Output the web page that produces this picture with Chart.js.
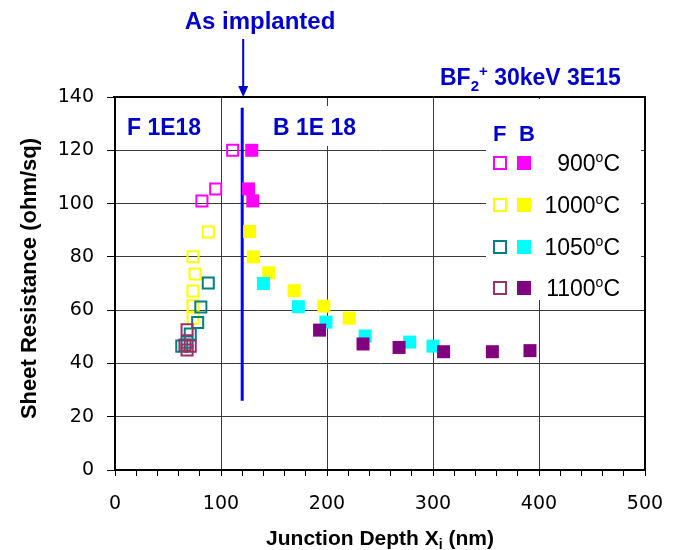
<!DOCTYPE html>
<html>
<head>
<meta charset="utf-8">
<script src="https://cdn.jsdelivr.net/npm/chart.js@4.4.1/dist/chart.umd.min.js"></script>
<style>
  html, body { margin: 0; background: #fff; }
  canvas { display: block; }
</style>
</head>
<body>
<canvas id="chart" width="681" height="550"></canvas>
<script>
// ---- data (x = junction depth nm, y = ohm/sq) ----
const f1100X = [68, 66, 68, 71];
const f1100Y = [52.6, 46.9, 45.0, 46.5];
const f1050X = [88, 81, 78, 71, 63, 68];
const f1050Y = [70.2, 61.2, 55.4, 51, 46.5, 48];
const f1000X = [88, 73.6, 75.5, 73.6, 73.6, 73.6];
const f1000Y = [89.3, 80, 73.6, 67.2, 61.6, 57];
const f900X  = [111, 95, 82];
const f900Y  = [120, 105.5, 101];

const b900X  = [129, 126, 130];
const b900Y  = [120, 105.5, 101];
const b1000X = [127, 130.5, 145, 169, 197, 221];
const b1000Y = [89.5, 80, 74, 67.3, 61.5, 57];
const b1050X = [140, 173, 199, 236, 278, 300];
const b1050Y = [70, 61.3, 55.5, 50.3, 48, 46.5];
const b1100X = [193, 234, 268, 310, 356, 391.5];
const b1100Y = [52.5, 47.3, 46, 44.4, 44.4, 44.8];

const implantX = [120, 120];
const implantY = [136, 26];

const xTicks = [0, 100, 200, 300, 400, 500];
const yTicks = [0, 20, 40, 60, 80, 100, 120, 140];
const tempLabels = ['900', '1000', '1050', '1100'];

const pts = (xs, ys) => xs.map((x, i) => ({ x, y: ys[i] }));

const BLUE = '#0000CC';
const hollow = (label, xs, ys, color) => ({
  label, data: pts(xs, ys),
  pointStyle: 'rect', pointRadius: 7.8, pointHoverRadius: 7.8,
  pointBorderWidth: 2, borderColor: color, backgroundColor: 'rgba(0,0,0,0)',
  showLine: false,
});
const filled = (label, xs, ys, color) => ({
  label, data: pts(xs, ys),
  pointStyle: 'rect', pointRadius: 9.2, pointHoverRadius: 9.2,
  pointBorderWidth: 0, borderColor: color, backgroundColor: color,
  showLine: false,
});

// legend rows: [hollow colour, filled colour]
const legendColors = [
  ['#FF00FF', '#FF00FF'],
  ['#FFFF00', '#FFFF00'],
  ['#008080', '#00FFFF'],
  ['#993366', '#800080'],
];

// white boxes behind the legend and the "B 1E 18" label
const backdrop = {
  id: 'backdrop',
  beforeDatasetsDraw(chart) {
    const ctx = chart.ctx;
    ctx.save();
    ctx.fillStyle = '#fff';
    ctx.fillRect(486, 99, 155, 201);
    ctx.fillRect(268, 106, 100, 40);
    ctx.restore();
  }
};

// superscript / subscript aware text run
function drawRun(ctx, parts, x, y, align) {
  let total = 0;
  parts.forEach(p => { ctx.font = p.font; total += ctx.measureText(p.t).width; });
  let cx = align === 'center' ? x - total / 2 : align === 'right' ? x - total : x;
  parts.forEach(p => {
    ctx.font = p.font;
    ctx.fillText(p.t, cx, y + (p.dy || 0));
    cx += ctx.measureText(p.t).width;
  });
}

const annotations = {
  id: 'annotations',
  afterDraw(chart) {
    const { ctx, chartArea: a, scales } = chart;
    ctx.save();

    // frame top + right
    ctx.strokeStyle = '#000';
    ctx.lineWidth = 2;
    ctx.beginPath();
    ctx.moveTo(a.left - 2, a.top);
    ctx.lineTo(a.right, a.top);
    ctx.lineTo(a.right, a.bottom);
    ctx.stroke();

    ctx.textAlign = 'left';
    ctx.textBaseline = 'alphabetic';

    // arrow to the as-implanted line
    const ax = scales.x.getPixelForValue(implantX[0]) + 1;
    ctx.strokeStyle = BLUE;
    ctx.fillStyle = BLUE;
    ctx.lineWidth = 2;
    ctx.beginPath();
    ctx.moveTo(ax, 39);
    ctx.lineTo(ax, a.top - 8);
    ctx.stroke();
    ctx.beginPath();
    ctx.moveTo(ax - 5, a.top - 11);
    ctx.lineTo(ax + 5, a.top - 11);
    ctx.lineTo(ax, a.top);
    ctx.closePath();
    ctx.fill();

    ctx.fillStyle = BLUE;
    ctx.textAlign = 'left';
    const B24 = 'bold 24px "Liberation Sans", Arial, sans-serif';
    const B23 = 'bold 23px "Liberation Sans", Arial, sans-serif';
    const B15 = 'bold 15px "Liberation Sans", Arial, sans-serif';
    drawRun(ctx, [{ t: 'As implanted', font: B24 }], 260, 29, 'center');
    drawRun(ctx, [{ t: 'F 1E18', font: B23 }], 127, 135, 'left');
    drawRun(ctx, [{ t: 'B 1E 18', font: B23 }], 273, 135, 'left');
    drawRun(ctx, [
      { t: 'BF', font: B23 },
      { t: '2', font: B15, dy: 6 },
      { t: '+', font: B15, dy: -9 },
      { t: ' 30keV 3E15', font: B23 },
    ], 440, 85, 'left');

    // legend
    ctx.font = 'bold 22px "Liberation Sans", Arial, sans-serif';
    ctx.fillText('F', 493, 141);
    ctx.fillText('B', 519, 141);
    const rowY = [163, 205, 247, 288];
    const R23 = '23px "Liberation Sans", Arial, sans-serif';
    const R14 = '14px "Liberation Sans", Arial, sans-serif';
    rowY.forEach((ry, i) => {
      ctx.strokeStyle = legendColors[i][0];
      ctx.lineWidth = 2;
      ctx.strokeRect(494, ry - 6, 12, 12);
      ctx.fillStyle = legendColors[i][1];
      ctx.fillRect(517, ry - 7, 14, 14);
      ctx.fillStyle = '#000';
      drawRun(ctx, [
        { t: tempLabels[i], font: R23 },
        { t: 'o', font: R14, dy: -9 },
        { t: 'C', font: R23 },
      ], 620, ry + 8, 'right');
    });

    // axis titles
    ctx.fillStyle = '#000';
    const T21 = 'bold 21px "Liberation Sans", Arial, sans-serif';
    const T14 = 'bold 14px "Liberation Sans", Arial, sans-serif';
    drawRun(ctx, [
      { t: 'Junction Depth X', font: T21 },
      { t: 'i', font: T14, dy: 4 },
      { t: ' (nm)', font: T21 },
    ], (a.left + a.right) / 2, 545, 'center');

    ctx.translate(36, (a.top + a.bottom) / 2 - 5);
    ctx.rotate(-Math.PI / 2);
    drawRun(ctx, [{ t: 'Sheet Resistance (ohm/sq)', font: 'bold 22px "Liberation Sans", Arial, sans-serif' }], 0, 0, 'center');

    ctx.restore();
  }
};

new Chart(document.getElementById('chart'), {
  type: 'scatter',
  data: {
    datasets: [
      hollow('F 1100', f1100X, f1100Y, '#993366'),
      hollow('F 1050', f1050X, f1050Y, '#008080'),
      hollow('F 1000', f1000X, f1000Y, '#FFFF00'),
      hollow('F 900', f900X, f900Y, '#FF00FF'),
      filled('B 1100', b1100X, b1100Y, '#800080'),
      filled('B 1050', b1050X, b1050Y, '#00FFFF'),
      filled('B 1000', b1000X, b1000Y, '#FFFF00'),
      filled('B 900', b900X, b900Y, '#FF00FF'),
      {
        label: 'As implanted', data: pts(implantX, implantY),
        showLine: true, borderColor: '#0000FF', borderWidth: 3,
        pointRadius: 0, pointHoverRadius: 0,
      },
    ],
  },
  options: {
    responsive: false,
    animation: false,
    events: [],
    layout: { padding: { top: 97, right: 36, left: 0, bottom: 0 } },
    plugins: { legend: { display: false }, tooltip: { enabled: false } },
    scales: {
      x: {
        type: 'linear', min: 0, max: 500,
        afterFit: (s) => { s.height = 80; },
        afterBuildTicks: (s) => {
          const t = [];
          for (let v = 0; v <= 500; v += 20) t.push({ value: v });
          s.ticks = t;
        },
        ticks: {
          autoSkip: false, maxRotation: 0, padding: 17,
          color: '#000',
          font: { family: '"DejaVu Sans", sans-serif', size: 19 },
          callback: (v) => (xTicks.includes(v) ? String(v) : ''),
        },
        grid: {
          color: (c) => (c.tick && xTicks.includes(c.tick.value) && c.tick.value !== 0 ? '#3a3a3a' : 'rgba(0,0,0,0)'),
          tickColor: '#000',
          tickLength: 6,
          lineWidth: 1,
        },
        border: { color: '#000', width: 2 },
      },
      y: {
        type: 'linear', min: 0, max: 140,
        afterFit: (s) => { s.width = 115; },
        afterBuildTicks: (s) => { s.ticks = yTicks.map(v => ({ value: v })); },
        ticks: {
          padding: 13, color: '#000',
          font: { family: '"DejaVu Sans", sans-serif', size: 19 },
        },
        grid: {
          color: (c) => (c.tick && c.tick.value !== 0 ? '#3a3a3a' : 'rgba(0,0,0,0)'),
          tickColor: '#000',
          tickLength: 8,
          lineWidth: 1,
        },
        border: { color: '#000', width: 2 },
      },
    },
  },
  plugins: [backdrop, annotations],
});
</script>
</body>
</html>
